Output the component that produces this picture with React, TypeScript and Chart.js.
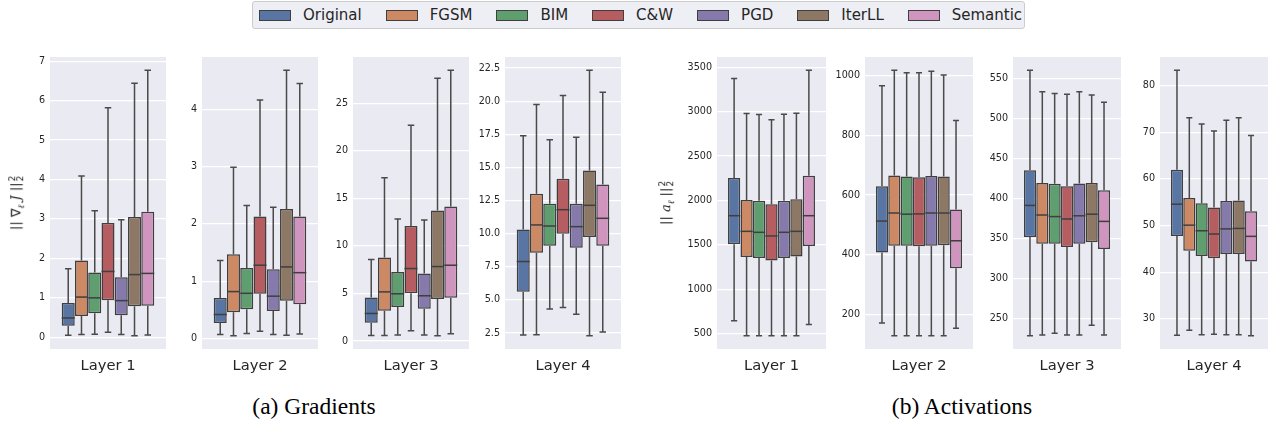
import React, { useEffect, useRef } from "react";
import { Chart, registerables } from "chart.js";
Chart.register(...registerables);

// ---------- data ----------
const METHODS = ["Original", "FGSM", "BIM", "C&W", "PGD", "IterLL", "Semantic"];
const COLORS = ["#5875a4", "#cc8963", "#5f9e6e", "#b55d60", "#857aab", "#8d7866", "#d095bf"];
const LAYERS = ["Layer 1", "Layer 2", "Layer 3", "Layer 4"];

// five-number summaries per method: [low whisker, Q1, median, Q3, high whisker]
const GRAD_L1 = [
  [0.05, 0.29, 0.49, 0.87, 1.74],
  [0.07, 0.54, 1.02, 1.95, 4.09],
  [0.08, 0.61, 1.0, 1.64, 3.21],
  [0.13, 0.94, 1.67, 2.9, 5.82],
  [0.07, 0.56, 0.93, 1.52, 2.98],
  [0.04, 0.79, 1.59, 3.05, 6.44],
  [0.06, 0.8, 1.62, 3.18, 6.77],
];
const GRAD_L2 = [
  [0.07, 0.27, 0.42, 0.71, 1.36],
  [0.05, 0.46, 0.82, 1.47, 2.99],
  [0.09, 0.51, 0.79, 1.23, 2.32],
  [0.13, 0.78, 1.28, 2.13, 4.16],
  [0.07, 0.48, 0.74, 1.21, 2.29],
  [0.06, 0.66, 1.25, 2.26, 4.68],
  [0.08, 0.6, 1.15, 2.13, 4.45],
];
const GRAD_L3 = [
  [0.59, 1.92, 2.9, 4.58, 8.57],
  [0.59, 3.18, 5.17, 8.78, 17.17],
  [0.63, 3.57, 4.97, 7.27, 12.83],
  [1.08, 5.03, 7.62, 12.1, 22.69],
  [0.63, 3.39, 4.76, 7.1, 12.73],
  [0.56, 4.41, 7.83, 13.71, 27.62],
  [0.77, 4.55, 7.97, 14.13, 28.46],
];
const GRAD_L4 = [
  [2.35, 5.61, 7.9, 10.31, 17.38],
  [2.37, 8.57, 10.66, 13.02, 19.74],
  [4.31, 9.08, 10.58, 12.26, 17.08],
  [4.43, 10.0, 11.81, 14.15, 20.42],
  [3.93, 8.93, 10.53, 12.26, 17.28],
  [2.3, 9.75, 12.14, 14.77, 22.33],
  [2.58, 9.08, 11.16, 13.72, 20.67],
];
const ACT_L1 = [
  [646, 1507, 1829, 2253, 3372],
  [478, 1365, 1653, 2006, 2979],
  [478, 1354, 1642, 1998, 2968],
  [478, 1324, 1601, 1957, 2908],
  [478, 1354, 1642, 1998, 2972],
  [478, 1369, 1653, 2013, 2983],
  [605, 1489, 1829, 2279, 3466],
];
const ACT_L2 = [
  [172, 408, 513, 630, 966],
  [129, 430, 540, 666, 1018],
  [129, 430, 536, 662, 1010],
  [129, 429, 537, 660, 1010],
  [129, 430, 540, 664, 1015],
  [129, 432, 540, 662, 1002],
  [154, 355, 447, 552, 850],
];
const ACT_L3 = [
  [228, 351.5, 391, 435, 560],
  [229, 343, 379, 419, 533],
  [231, 343, 377, 418, 531],
  [229, 339, 374, 415, 530],
  [229, 343, 378, 418.5, 533],
  [241, 345, 380, 419, 529],
  [229, 336.5, 371, 410, 520],
];
const ACT_L4 = [
  [26.5, 47.8, 54.6, 62.0, 83.3],
  [27.6, 44.6, 50.1, 55.9, 73.1],
  [26.6, 43.5, 48.9, 54.8, 71.8],
  [26.7, 43.0, 48.2, 53.9, 70.3],
  [26.6, 43.9, 49.3, 55.3, 72.6],
  [26.6, 43.9, 49.4, 55.4, 73.1],
  [26.4, 42.3, 47.7, 53.1, 69.3],
];

const GRAD_STEPS = [1, 1, 5, 2.5];
const ACT_STEPS = [500, 200, 50, 10];
const GRAD_DECIMALS = [0, 0, 0, 1];
const ACT_DECIMALS = [0, 0, 0, 0];

// ---------- layout ----------
const EDGE = "#3f3f3f";
const WHISKER = "#4a4a4a";
const TEXT = "#262626";
const PLOT_TOP = 57;
const PLOT_BOTTOM = 349;
const CANVAS_TOP = 45;
const CANVAS_H = 340;
const Y_AXIS_W = 45;
const PANEL_LEFTS = [50, 202, 353, 505, 717, 865, 1013, 1160];
const PANEL_WIDTHS = [116, 116, 116, 116, 109, 108, 108, 108];

const bgPlugin = {
  id: "axesBg",
  beforeDraw(chart: any) {
    const { ctx, chartArea } = chart;
    ctx.save();
    ctx.fillStyle = "#eaeaf2";
    ctx.fillRect(chartArea.left, chartArea.top, chartArea.right - chartArea.left, chartArea.bottom - chartArea.top);
    ctx.restore();
  },
};

const boxPlugin = {
  id: "boxWhiskers",
  afterDatasetsDraw(chart: any) {
    const ctx = chart.ctx;
    const ys = chart.scales.y;
    chart.data.datasets.forEach((ds: any, i: number) => {
      const el: any = chart.getDatasetMeta(i).data[0];
      if (!el) return;
      const s = ds.stats;
      const x = el.x;
      const w = el.width;
      const py = (v: number) => ys.getPixelForValue(v);
      ctx.save();
      ctx.strokeStyle = WHISKER;
      ctx.lineWidth = 1.5;
      ctx.beginPath();
      ctx.moveTo(x, py(s[1]));
      ctx.lineTo(x, py(s[0]));
      ctx.moveTo(x - w / 4, py(s[0]));
      ctx.lineTo(x + w / 4, py(s[0]));
      ctx.moveTo(x, py(s[3]));
      ctx.lineTo(x, py(s[4]));
      ctx.moveTo(x - w / 4, py(s[4]));
      ctx.lineTo(x + w / 4, py(s[4]));
      ctx.stroke();
      ctx.strokeStyle = EDGE;
      ctx.beginPath();
      ctx.moveTo(x - w / 2, py(s[2]));
      ctx.lineTo(x + w / 2, py(s[2]));
      ctx.stroke();
      ctx.restore();
    });
  },
};

type PanelProps = { idx: number; stats: number[][]; layer: string; step: number; decimals: number };

function Panel({ idx, stats, layer, step, decimals }: PanelProps) {
  const ref = useRef<HTMLCanvasElement>(null);
  const left = PANEL_LEFTS[idx] - Y_AXIS_W;
  const width = Y_AXIS_W + PANEL_WIDTHS[idx] + 2;
  useEffect(() => {
    if (!ref.current) return;
    const lo = Math.min(...stats.map((s) => s[0]));
    const hi = Math.max(...stats.map((s) => s[4]));
    const margin = (hi - lo) * 0.05;
    const yMin = lo - margin;
    const yMax = hi + margin;
    const chart = new Chart(ref.current, {
      type: "bar",
      data: {
        labels: [layer],
        datasets: METHODS.map((m, i) => ({
          label: m,
          data: [[stats[i][1], stats[i][3]]],
          stats: stats[i],
          backgroundColor: COLORS[i],
          borderColor: EDGE,
          borderWidth: 1.5,
          borderSkipped: false,
          categoryPercentage: 0.8,
          barPercentage: 0.98,
        })) as any,
      },
      options: {
        animation: false,
        responsive: false,
        maintainAspectRatio: false,
        devicePixelRatio: 1,
        layout: { padding: { top: PLOT_TOP - CANVAS_TOP, right: 2, left: 0, bottom: 0 } },
        plugins: { legend: { display: false }, tooltip: { enabled: false } },
        scales: {
          x: {
            grid: { display: false },
            border: { display: false },
            ticks: { color: TEXT, font: { family: "DejaVu Sans", size: 14.7 }, padding: 0 },
            afterFit: (s: any) => {
              s.height = CANVAS_TOP + CANVAS_H - PLOT_BOTTOM;
            },
          },
          y: {
            min: yMin,
            max: yMax,
            grid: { color: "#ffffff", lineWidth: 1.2, drawTicks: false },
            border: { display: false },
            ticks: {
              color: TEXT,
              font: { family: "DejaVu Sans", size: 9.6 },
              padding: 5,
              callback: (v: any) => Number(v).toFixed(decimals),
            },
            afterBuildTicks: (s: any) => {
              const t: any[] = [];
              for (let k = Math.ceil(yMin / step); k * step <= yMax; k++) t.push({ value: k * step });
              s.ticks = t;
            },
            afterFit: (s: any) => {
              s.width = Y_AXIS_W;
            },
          },
        },
      } as any,
      plugins: [bgPlugin, boxPlugin],
    });
    return () => chart.destroy();
  }, []);
  return (
    <canvas
      ref={ref}
      width={width}
      height={CANVAS_H}
      style={{ position: "absolute", left, top: CANVAS_TOP, width, height: CANVAS_H }}
    />
  );
}

function Stacked22() {
  return (
    <span
      style={{
        display: "inline-flex",
        flexDirection: "column",
        fontSize: "0.68em",
        lineHeight: 0.95,
        verticalAlign: "middle",
        marginLeft: 1,
      }}
    >
      <span>2</span>
      <span>2</span>
    </span>
  );
}

function YLabel({ x, kind }: { x: number; kind: "grad" | "act" }) {
  return (
    <div
      style={{
        position: "absolute",
        left: x,
        top: (PLOT_TOP + PLOT_BOTTOM) / 2,
        transform: "translate(-50%, -50%) rotate(-90deg)",
        whiteSpace: "nowrap",
        fontFamily: "'DejaVu Sans'",
        fontSize: 13,
        color: TEXT,
        lineHeight: 1,
      }}
    >
      {kind === "grad" ? (
        <span>
          || ∇<sub style={{ fontSize: "0.7em", fontFamily: "'DejaVu Serif'", fontStyle: "italic" }}>ℓ</sub>{" "}
          <i style={{ fontFamily: "'DejaVu Serif'" }}>J</i> ||
          <Stacked22 />
        </span>
      ) : (
        <span>
          || <i style={{ fontFamily: "'DejaVu Serif'" }}>a</i>
          <sub style={{ fontSize: "0.7em", fontFamily: "'DejaVu Serif'", fontStyle: "italic" }}>ℓ</sub> ||
          <Stacked22 />
        </span>
      )}
    </div>
  );
}

function Legend() {
  return (
    <div
      style={{
        position: "absolute",
        left: 252,
        top: 1,
        width: 773,
        height: 28,
        boxSizing: "border-box",
        border: "1px solid #cccccc",
        borderRadius: 3,
        background: "#eeeef5",
        display: "flex",
        alignItems: "center",
        paddingLeft: 6,
        fontFamily: "'DejaVu Sans'",
        fontSize: 15,
        color: TEXT,
      }}
    >
      {METHODS.map((m, i) => (
        <div key={m} style={{ display: "flex", alignItems: "center", marginRight: i < METHODS.length - 1 ? 24 : 0 }}>
          <span
            style={{
              display: "inline-block",
              width: 32,
              height: 11,
              boxSizing: "border-box",
              background: COLORS[i],
              border: `1px solid ${EDGE}`,
              marginRight: 12,
            }}
          />
          <span style={{ whiteSpace: "nowrap" }}>{m}</span>
        </div>
      ))}
    </div>
  );
}

const titleStyle: React.CSSProperties = {
  position: "absolute",
  top: 407,
  transform: "translate(-50%, -50%)",
  fontFamily: "'Liberation Serif'",
  fontSize: 23.5,
  color: "#000",
  whiteSpace: "nowrap",
  lineHeight: 1,
};

export default function App() {
  const grads = [GRAD_L1, GRAD_L2, GRAD_L3, GRAD_L4];
  const acts = [ACT_L1, ACT_L2, ACT_L3, ACT_L4];
  return (
    <div style={{ position: "absolute", left: 0, top: 0, width: 1269, height: 423, background: "#fff", overflow: "hidden" }}>
      <Legend />
      {grads.map((g, i) => (
        <Panel key={"g" + i} idx={i} stats={g} layer={LAYERS[i]} step={GRAD_STEPS[i]} decimals={GRAD_DECIMALS[i]} />
      ))}
      {acts.map((a, i) => (
        <Panel key={"a" + i} idx={i + 4} stats={a} layer={LAYERS[i]} step={ACT_STEPS[i]} decimals={ACT_DECIMALS[i]} />
      ))}
      <YLabel x={17} kind="grad" />
      <YLabel x={667} kind="act" />
      <div style={{ ...titleStyle, left: 314 }}>(a) Gradients</div>
      <div style={{ ...titleStyle, left: 962 }}>(b) Activations</div>
    </div>
  );
}
